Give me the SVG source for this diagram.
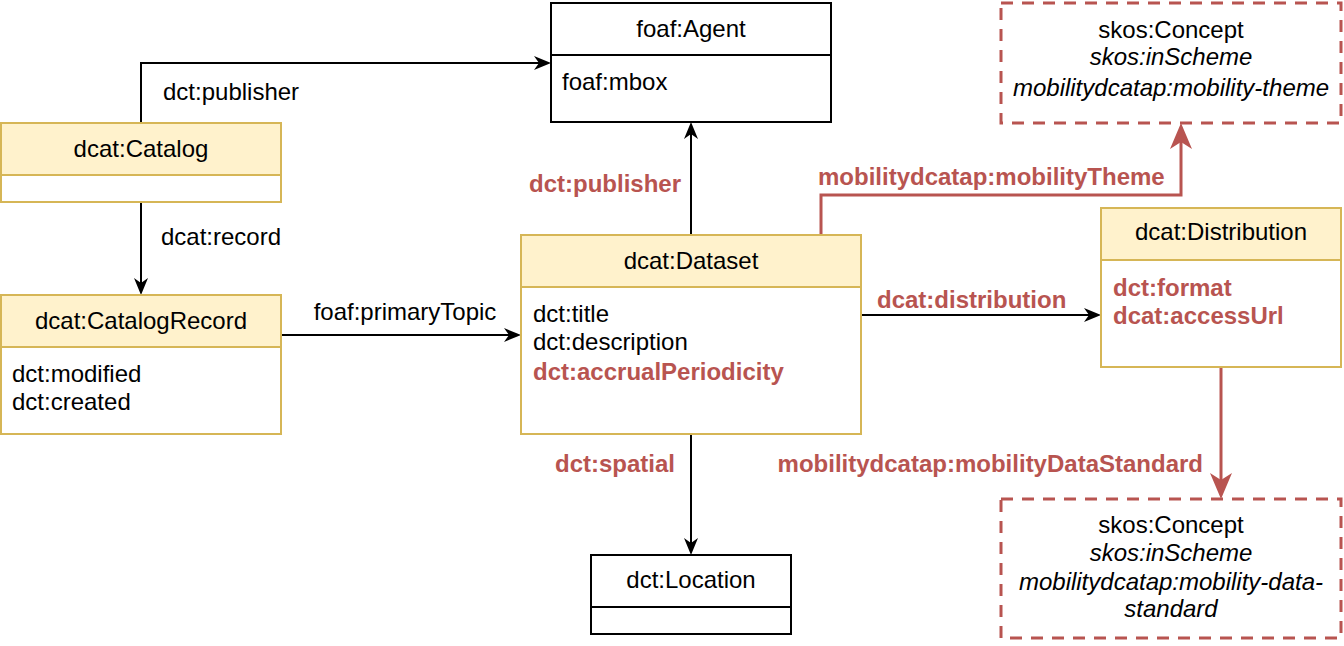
<svg xmlns="http://www.w3.org/2000/svg" width="1344" height="646" viewBox="0 0 1344 646">
<style>
text{font-family:"Liberation Sans",Arial,sans-serif;font-size:24px;fill:#000}
.c{text-anchor:middle}
.r{fill:#b85450;font-weight:bold}
.i{font-style:italic}
.cls{fill:#fff2cc;stroke:#d6b656;stroke-width:2}
.body{fill:#fff;stroke:#d6b656;stroke-width:2}
.blk{fill:#fff;stroke:#000;stroke-width:2}
.dash{fill:#fff;stroke:#b85450;stroke-width:3;stroke-dasharray:12,9}
.ln{fill:none;stroke:#000;stroke-width:2}
.rln{fill:none;stroke:#b85450;stroke-width:3}
</style>
<defs>
<marker id="ab" markerUnits="userSpaceOnUse" orient="auto" markerWidth="40" markerHeight="40" refX="0" refY="0" viewBox="-20 -20 40 40" overflow="visible">
<path d="M-5,-7 L12,0 L-5,7 L0,0 Z" fill="#000"/>
</marker>
<marker id="ar" markerUnits="userSpaceOnUse" orient="auto" markerWidth="60" markerHeight="60" refX="0" refY="0" viewBox="-30 -30 60 60" overflow="visible">
<path d="M-7,-11 L19,0 L-7,11 L0,0 Z" fill="#b85450"/>
</marker>
</defs>
<rect width="1344" height="646" fill="#fff"/>

<g id="connectors">
<path class="ln" d="M141,123 V63 H539" marker-end="url(#ab)"/>
<path class="ln" d="M141,202 V283" marker-end="url(#ab)"/>
<path class="ln" d="M281,335 H509" marker-end="url(#ab)"/>
<path class="ln" d="M691,235 V134" marker-end="url(#ab)"/>
<path class="rln" d="M821,235 V195 H1181 V142" marker-end="url(#ar)"/>
<path class="ln" d="M861,315 H1089" marker-end="url(#ab)"/>
<path class="rln" d="M1221,367 V480" marker-end="url(#ar)"/>
<path class="ln" d="M691,434 V543" marker-end="url(#ab)"/>
<text x="163" y="100">dct:publisher</text>
<text x="161" y="245">dcat:record</text>
<text x="405" y="320" class="c">foaf:primaryTopic</text>
<text x="681" y="192" class="r" text-anchor="end">dct:publisher</text>
<text x="818" y="185" class="r">mobilitydcatap:mobilityTheme</text>
<text x="877" y="308" class="r">dcat:distribution</text>
<text x="1203" y="472" class="r" text-anchor="end">mobilitydcatap:mobilityDataStandard</text>
<text x="675" y="472" class="r" text-anchor="end">dct:spatial</text>
</g>

<g id="agent">
<rect class="blk" x="551" y="3" width="280" height="119"/>
<line x1="551" y1="55" x2="831" y2="55" stroke="#000" stroke-width="2"/>
<text x="691" y="37" class="c">foaf:Agent</text>
<text x="562" y="90">foaf:mbox</text>
</g>

<g id="catalog">
<rect class="body" x="1" y="123" width="280" height="79"/>
<rect class="cls" x="1" y="123" width="280" height="52"/>
<text x="141" y="157" class="c">dcat:Catalog</text>
</g>

<g id="catalogRecord">
<rect class="body" x="1" y="295" width="280" height="139"/>
<rect class="cls" x="1" y="295" width="280" height="52"/>
<text x="141" y="329" class="c">dcat:CatalogRecord</text>
<text x="12" y="382">dct:modified</text>
<text x="12" y="410">dct:created</text>
</g>

<g id="dataset">
<rect class="body" x="521" y="235" width="340" height="199"/>
<rect class="cls" x="521" y="235" width="340" height="52"/>
<text x="691" y="269" class="c">dcat:Dataset</text>
<text x="533" y="322">dct:title</text>
<text x="533" y="350">dct:description</text>
<text x="533" y="380" class="r">dct:accrualPeriodicity</text>
</g>

<g id="distribution">
<rect class="body" x="1101" y="208" width="240" height="159"/>
<rect class="cls" x="1101" y="208" width="240" height="52"/>
<text x="1221" y="240" class="c">dcat:Distribution</text>
<text x="1113" y="296" class="r">dct:format</text>
<text x="1113" y="324" class="r">dcat:accessUrl</text>
</g>

<g id="conceptTheme">
<rect class="dash" x="1001" y="3" width="340" height="120"/>
<text x="1171" y="38" class="c">skos:Concept</text>
<text x="1171" y="65" class="c i">skos:inScheme</text>
<text x="1171" y="96" class="c i">mobilitydcatap:mobility-theme</text>
</g>

<g id="conceptStandard">
<rect class="dash" x="1001" y="499" width="340" height="139"/>
<text x="1171" y="533" class="c">skos:Concept</text>
<text x="1171" y="561" class="c i">skos:inScheme</text>
<text x="1171" y="590" class="c i">mobilitydcatap:mobility-data-</text>
<text x="1171" y="617" class="c i">standard</text>
</g>

<g id="location">
<rect class="blk" x="591" y="555" width="200" height="79"/>
<line x1="591" y1="607" x2="791" y2="607" stroke="#000" stroke-width="2"/>
<text x="691" y="588" class="c">dct:Location</text>
</g>
</svg>
